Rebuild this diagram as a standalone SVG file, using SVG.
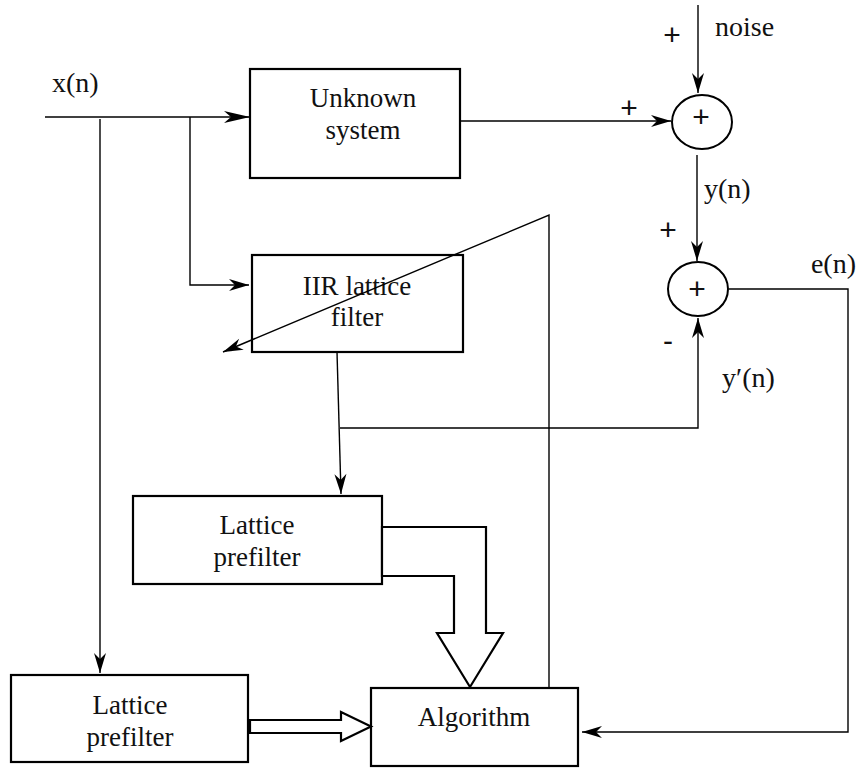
<svg xmlns="http://www.w3.org/2000/svg" width="857" height="769" viewBox="0 0 857 769">
<style>
.box{fill:none;stroke:#000;stroke-width:2.2}
.sum{fill:none;stroke:#000;stroke-width:2}
.ln{fill:none;stroke:#000;stroke-width:1.4}
.hollow{fill:#fff;stroke:#000;stroke-width:2.2;stroke-linejoin:miter}
.t{font-family:'Liberation Serif','Times New Roman',serif;font-size:27px;fill:#111;text-anchor:middle}
.lbl{font-family:'Liberation Serif','Times New Roman',serif;font-size:28px;fill:#111}
.pm{font-family:'Liberation Sans',Arial,sans-serif;font-size:30px;fill:#111;text-anchor:middle}
</style>
<defs>
<marker id="ah" viewBox="-22 -7 24 14" refX="0" refY="0" markerWidth="24" markerHeight="14" orient="auto" markerUnits="userSpaceOnUse">
<path d="M0,0 L-20,-6 L-14,0 L-20,6 z" fill="#000"/>
</marker>
<marker id="ahb" viewBox="-28 -7 30 14" refX="0" refY="0" markerWidth="30" markerHeight="14" orient="auto" markerUnits="userSpaceOnUse">
<path d="M0,0 L-26,-6 L-19,0 L-26,6 z" fill="#000"/>
</marker>
</defs>
<rect width="857" height="769" fill="#fff"/>
<g id="unknown-system">
<rect class="box" x="250" y="69" width="210" height="109"/>
<text class="t" x="363" y="107">Unknown</text>
<text class="t" x="363" y="139">system</text>
</g>
<g id="iir-lattice-filter">
<rect class="box" x="252" y="255" width="211" height="97"/>
<text class="t" x="357" y="295">IIR lattice</text>
<text class="t" x="357" y="326">filter</text>
</g>
<g id="lattice-prefilter-1">
<rect class="box" x="133" y="496" width="249" height="88"/>
<text class="t" x="257" y="534">Lattice</text>
<text class="t" x="257" y="566">prefilter</text>
</g>
<g id="lattice-prefilter-2">
<rect class="box" x="11" y="675" width="237" height="87"/>
<text class="t" x="130" y="714">Lattice</text>
<text class="t" x="130" y="746">prefilter</text>
</g>
<g id="algorithm">
<rect class="box" x="371" y="688" width="207" height="78"/>
<text class="t" x="474" y="726">Algorithm</text>
</g>
<g id="sum-1">
<ellipse class="sum" cx="702" cy="122" rx="30" ry="27"/>
<text class="pm" x="701" y="127">+</text>
</g>
<g id="sum-2">
<ellipse class="sum" cx="698" cy="289" rx="30" ry="27"/>
<text class="pm" x="697" y="299">+</text>
</g>
<g id="connectors">
<path class="ln" d="M45,117 H250" marker-end="url(#ahb)"/>
<path class="ln" d="M190,117 V285 H249" marker-end="url(#ah)"/>
<path class="ln" d="M100,119 V673" marker-end="url(#ah)"/>
<path class="ln" d="M460,121 H671" marker-end="url(#ah)"/>
<path class="ln" d="M698,5 V93" marker-end="url(#ah)"/>
<path class="ln" d="M697,155 V261" marker-end="url(#ah)"/>
<path class="ln" d="M337,352 L341,494" marker-end="url(#ah)"/>
<path class="ln" d="M340,428 H698 V318" marker-end="url(#ah)"/>
<path class="ln" d="M729,289 H848 V732 H582" marker-end="url(#ah)"/>
<path class="ln" d="M549,688 V215 L223,352" marker-end="url(#ah)"/>
<polygon class="hollow" points="250,720 341,720 341,712 371,726.5 341,741 341,733 250,733"/>
<polygon class="hollow" points="382,527 486,527 486,633 503,633 470,687 437,633 454,633 454,576 382,576"/>
</g>
<g id="labels">
<text class="lbl" x="52" y="92">x(n)</text>
<text class="lbl" x="715" y="36">noise</text>
<text class="lbl" x="704" y="198">y(n)</text>
<text class="lbl" x="856" y="273" text-anchor="end">e(n)</text>
<text class="lbl" x="722" y="387">y′(n)</text>
<text class="pm" x="672" y="45">+</text>
<text class="pm" x="629" y="118">+</text>
<text class="pm" x="668" y="240">+</text>
<text class="pm" x="668" y="351">-</text>
</g>
</svg>
